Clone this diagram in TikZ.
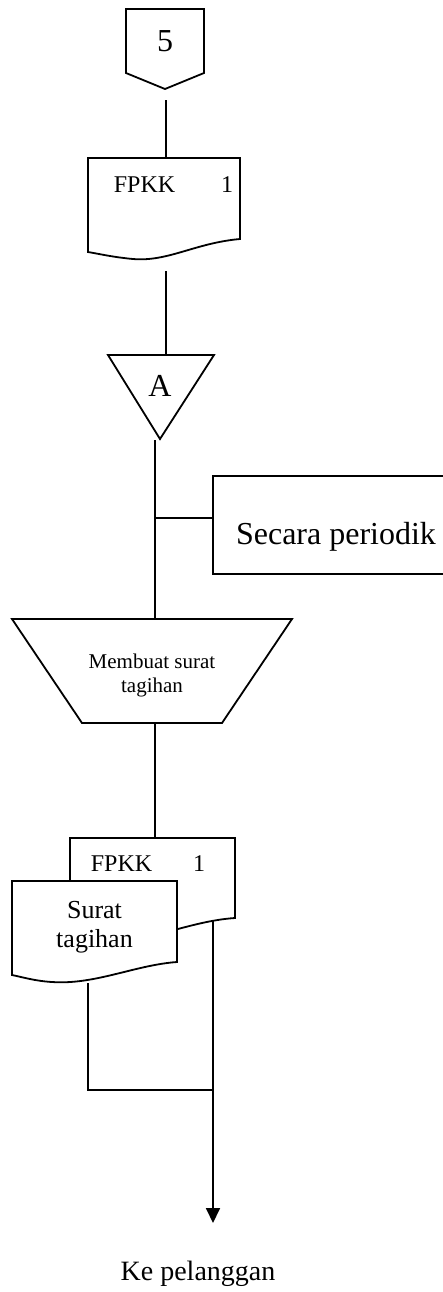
\documentclass[tikz,border=0pt]{standalone}
\usepackage{fontspec}
\setmainfont{Liberation Serif}
\usetikzlibrary{arrows.meta}
\begin{document}
\begin{tikzpicture}[x=0.5pt, y=-0.5pt, line width=0.9pt, line join=miter,
  shapeline/.style={draw=black, fill=white},
  conn/.style={draw=black},
  big/.style={inner sep=0pt, font=\fontsize{16}{19}\selectfont},
  doclbl/.style={inner sep=0pt, font=\fontsize{12}{14}\selectfont},
  proclbl/.style={inner sep=0pt, align=center, font=\fontsize{10.5}{12}\selectfont},
  frontlbl/.style={inner sep=0pt, align=center, font=\fontsize{13}{14.5}\selectfont},
  outlbl/.style={inner sep=0pt, font=\fontsize{14}{16}\selectfont}]
\useasboundingbox (0,0) rectangle (443,1292);

% off-page connector 5
\draw[shapeline] (126,9) -- (204,9) -- (204,73) -- (165,89) -- (126,73) -- cycle;
\node[big, anchor=base] (pg5) at (165,51) {5};
\coordinate (pg5out) at (166,100);

% document FPKK 1
\draw[shapeline] (88,158) -- (240,158) -- (240,239)
  .. controls (195,243) and (168,262) .. (133,259)
  .. controls (112,257) and (100,254) .. (88,252) -- cycle;
\node[doclbl, anchor=base west] (fpkk1) at (113,192) {FPKK};
\node[doclbl, anchor=base] (fpkk1n) at (227,192) {1};
\coordinate (fpkk1in) at (166,158);
\coordinate (fpkk1out) at (166,271);

% connector A
\draw[shapeline] (108,355) -- (214,355) -- (160,439) -- cycle;
\node[big, anchor=base] (conA) at (160,396) {A};
\coordinate (conAin) at (166,355);
\coordinate (conAout) at (155,440);

% annotation
\draw[conn] (446,476) -- (213,476) -- (213,574) -- (446,574);
\node[big, anchor=base] (note) at (336,544) {Secara periodik};
\coordinate (noteleft) at (213,518);
\coordinate (branch) at (155,518);

% manual operation
\draw[shapeline] (12,619) -- (292,619) -- (222,723) -- (82,723) -- cycle;
\node[proclbl] (proc) at (152,675.5) {Membuat surat\\tagihan};
\coordinate (procin) at (155,619);
\coordinate (procout) at (155,723);

% back document FPKK 1
\draw[shapeline] (70,838) -- (235,838) -- (235,918)
  .. controls (190,921) and (150,942) .. (115,939)
  .. controls (95,937) and (82,933) .. (70,931) -- cycle;
\node[doclbl, anchor=base west] (fpkk2) at (90,871) {FPKK};
\node[doclbl, anchor=base] (fpkk2n) at (199,871) {1};
\coordinate (fpkk2in) at (155,838);
\coordinate (fpkk2out) at (213,920);

% front document Surat tagihan
\draw[shapeline] (12,881) -- (177,881) -- (177,962)
  .. controls (135,965) and (95,985) .. (52,982)
  .. controls (35,981) and (22,977) .. (12,975) -- cycle;
\node[frontlbl] (surat) at (94.5,927.5) {Surat\\tagihan};
\coordinate (suratout) at (88,983);
\coordinate (join) at (213,1090);
\coordinate (joinleft) at (88,1090);
\coordinate (arrowend) at (213,1223);

% destination
\node[outlbl, anchor=base] (dest) at (198,1280) {Ke pelanggan};

% flow lines
\draw[conn] (pg5out) -- (fpkk1in);
\draw[conn] (fpkk1out) -- (conAin);
\draw[conn] (conAout) -- (procin);
\draw[conn] (branch) -- (noteleft);
\draw[conn] (procout) -- (fpkk2in);
\draw[conn] (suratout) -- (joinleft) -- (join);
\draw[conn, -{Triangle[length=7.5pt, width=7pt]}] (fpkk2out) -- (arrowend);
\end{tikzpicture}
\end{document}
